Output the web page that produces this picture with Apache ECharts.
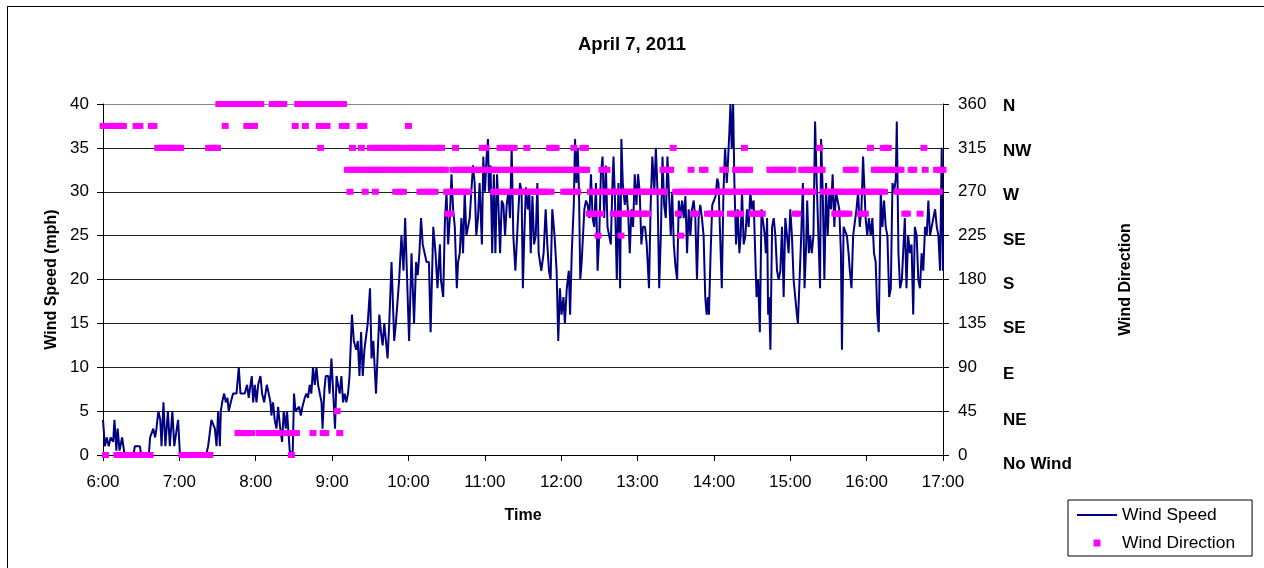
<!DOCTYPE html>
<html>
<head>
<meta charset="utf-8">
<title>April 7, 2011</title>
<script src="https://cdn.jsdelivr.net/npm/echarts@6/dist/echarts.min.js"></script>
<style>
  html, body { margin: 0; padding: 0; background: #fff; }
  #wrap { position: relative; width: 1264px; height: 568px; overflow: hidden; }
  #chart { width: 1264px; height: 568px; }
  #frame { position: absolute; left: 7px; top: 6px; width: 1300px; height: 600px; border: 1px solid #000; pointer-events: none; }
</style>
</head>
<body>
<div id="wrap">
  <div id="chart"></div>
  <div id="frame"></div>
</div>
<script>
// minutes after 6:00 on the x axis
const timeLabels = ['6:00', '7:00', '8:00', '9:00', '10:00', '11:00', '12:00', '13:00', '14:00', '15:00', '16:00', '17:00']
const degreeLabels = [0, 45, 90, 135, 180, 225, 270, 315, 360]
const compassLabels = ['No Wind', 'NE', 'E', 'SE', 'S', 'SE', 'W', 'NW', 'N']

// [minute, mph]
const windSpeed = [
  [0,4],[1.5,1],[3,2],[4.5,1],[6,2],[8,1.5],[9,4],[10.5,0.5],[11.5,3],[13,0.5],[15,2],[17,0],[24,0],[25,1],[29,1],[30,0],[36,0],[37,2],[39.5,3],[41,2],[42,3],[43.5,5],[45,4],[46,1],[47.5,6],[49,1],[51,5],[52.5,1],[54.5,5],[56,1],[57.5,1],[59,4],[60.5,0],
  [81,0],[82.6,1],[85.2,4],[87.9,3],[89.2,1],[90.5,5],[91.8,1],[92.6,5],[93.6,6],[95.2,7],[96.5,6],[97.8,6.5],[98.8,5],[100.4,6],[102.2,7],[104.9,7],[106.7,10],[108,7],[111.4,7],[113.2,8],[114.5,6.5],[115.9,8],[116.9,9],[118,6],[119.3,8],[120.6,6],[121.9,8],[123.7,9],[125,7],[126.6,6],[128.7,8],[130.2,7],[131.6,6],[132.3,4.5],[133.6,6],[134.9,4],[136.3,3],[137.6,5.5],[138.9,3.5],[140.7,1.5],[142,5],[143.6,3],[144.6,5],[146.7,0.5],[148,0],[149.1,0.5],[150.1,7],[151.2,5],[152.7,5],[154.1,5.5],[155.4,4.5],[156.7,5.5],[158.5,6.5],[159.8,7],[161.1,6.5],[162.4,8],[163.7,7],[165,10],[166.4,8],[167.7,10],[169,8],
  [170.4,8],[171.7,6],[172.5,3],[174,7.5],[175,9],[177,9],[178,7],[179.5,11],[181.6,5],[182.3,3],[183.5,9],[184.7,8],[186,7],[187.3,9],[188.6,6],[189.9,7],[191.2,6],[192.5,7],[193.7,9],[195.6,16],[197.1,13],[198.9,12],[200.2,13],[201.5,9],[202.8,14],[204.1,9],[205.4,12],[206.7,12],[208,15],[209.8,19],[211,11],[212.4,13],[214.5,7],[217.1,16],[218.4,14],[219.7,12.5],[221,15],[222.3,15],[223.6,11],[224.9,15],[226.7,22],[228.8,13],[230.1,15],[231.4,15],[232.7,20],[234.5,25],[236.1,21],[237.4,27],[238.7,27],[240.5,13],[242.4,23],[244.4,15],[246,22],[247.3,20.5],[248.6,23],[249.9,27],[251.2,24],[252.5,24],
  [254.2,22],[256.1,22],[257.4,14],[259.5,26],[261.3,23],[262.8,19],[264.7,24],[265.5,20],[267.3,18],[268.6,26.5],[269.9,30],[271.2,24],[272.5,27],[273.8,32],[275.1,28],[276.4,26],[278,19],[279,22],[280.3,23],[281.6,27],[282.9,23],[284.2,30],[285.5,25],[286.8,26],[288.1,27],[289.4,30],[290.7,33],[292,31],[293.3,25],[294.6,27],[295.9,31],[297.7,24],[298.8,34],[300.1,30],[301.4,34],[302.5,36],[303.2,30],[304.5,33],[305.8,23],[307.1,32],[308.3,23],[309.6,32],[310.7,28.5],[312,23],[313.3,29],[314.6,28.5],[315.9,25],[317.2,28.5],[318.5,30],[319.8,27],[321.1,35],[322.4,25],[324,21],[325.3,21],[326.6,28.5],[327.6,31],[328.9,30],[329.9,19],[331,25],[332.3,30.5],[333.8,28],[335,30],[336.1,23],[337.4,29.5],[338.7,24],
  [340,25],[341.3,31],[342.3,23],[344.4,21],[346.2,23],[347.8,28],[349.1,24],[350.4,21],[351.7,20],[353,28],[354.8,25],[356.4,21],[357.7,13],[359,19],[360.3,16],[361.8,18],[362.9,15],[364.4,19],[366,21],[367,16],[368.3,23],[369.9,28.5],[370.9,36],[372,31],[373,35],[374,30],[375,20],[376.1,22],[377.2,22],[378.2,28],[379.5,29],[380.8,28.5],[382.1,27],[383.4,32],[384.7,27],[386,26],[387.3,31],[388.6,21],[389.9,25],[391.2,32],[392.5,34],[393.8,27],[395.1,33],[396.4,26],[397.7,26],[399,24],[400.3,31],[401.1,34],[402.4,28.5],[403.7,20],[405,31],[406.3,19],[407.3,36],[408.4,31],[410,28.5],[411.5,30],[412.8,27],[413.9,23],[415.2,28],[416.5,26],[417.8,32],[419.1,28.5],[420.4,32],[421.7,30],[423,24],[424.3,26],
  [425.9,26],[427.2,24],[429,19],[430.3,28.5],[431.6,34],[433.2,30],[434.4,35],[435.7,30],[437,19],[438.3,25],[439.6,34],[440.9,28.5],[442.2,27],[443.5,34],[444.6,34],[446.1,25],[447.2,30],[448.5,24],[449.8,21.5],[451.1,20],[452.4,29],[453.7,27],[455,29],[456.3,27],[457.6,29.5],[458.9,23],[460.2,28],[461.5,25],[462.8,28],[464.1,29],[465.4,27],[466.7,20],[468,27],[469.3,28.5],[470.6,27],[471.9,25],[473.2,18],[474.3,16],[475.3,18],[476.1,16],[477.4,23],[478.7,28.5],[480,29],[481.3,29.5],[482.6,31.5],[483.6,31],[484.9,25],[486.2,19],[487.5,30],[488.8,35],[490.1,31],[490.9,33],[492.2,37],[493,40],[494,35],[495.1,40],[496.1,31],[497.4,24],[498.7,28],[500,23],[501,25],[502.1,30],[503.4,24],[504.7,25],[506,28],[507.3,26],[508.6,30],[509.9,28],[511.2,29],[512.2,29],
  [513.5,18],[514.8,20],[516.1,14],[517.4,28],[518.7,28],[520,25],[520.8,23],[521.8,27],[522.6,16],[523.4,18],[524.4,12],[525.7,26],[527,27],[528.3,25],[529.6,21],[530.9,20],[532.2,21],[533.5,26],[534.8,18],[536.1,27],[537.4,25],[538.7,23],[540,28],[541.3,25],[542.6,20],[543.9,20],[545.2,16],[546,15],[547.3,20],[548.6,25],[549.9,31],[551.2,19],[552.5,24],[553.3,29],[554.6,23],[555.6,25],[556.9,23],[558.2,25],[559.5,38],[560.8,31],[562.1,25],[563.4,19],[564.2,36],[565.5,30],[566.8,20],[568.1,31],[569.4,25],[570.7,30],[572,28],[573.3,32],[574.6,26],[575.9,30],[577.2,29],[578.5,28],[579.8,23],[580.6,12],[581.9,26],[583.2,26],[584.5,25],[585.8,23],[586.8,21],[588.1,19],[589.4,25],[590.7,25],[592,28],[593.3,30],[594.6,26],[595.9,28],[597.2,34],
  [599.2,27],[600.5,25],[601.8,27],[603.2,25],[604.5,27],[605.8,23],[607.1,22],[608.4,16],[609.5,14],[611.1,30],[612.4,26],[613.7,29],[615,26],[616.3,25],[617.7,18],[619,19],[620.3,31],[621.6,30],[622.9,31.5],[623.7,38],[625,23],[626.3,19],[627.7,20],[629,20],[630,27],[631.3,19],[632.6,25],[634,23],[635.3,24],[636.6,16],[637.9,26],[639.3,25],[640.6,20],[641.9,19],[643.2,23],[644.5,21],[645.9,26],[647.2,25],[648.5,29],[649.8,25],[651.1,26],[652.4,27],[653.8,28],[655.1,26],[656.4,25],[657.7,21],[659,35],[660,21]
]

// [minute, degrees]
const windDirection = [
  [0,337.5],[2,0],[4,337.5],[6,337.5],[8,337.5],[10,337.5],[11,0],[12,337.5],[13,0],[14,337.5],[15,0],[16,337.5],[17,0],[19,0],[21,0],[23,0],[25,0],[26,337.5],[27,0],[29,337.5],[31,0],[33,0],[35,0],[37,0],[38,337.5],[40,337.5],
  [43,315],[45,315],[47,315],[49,315],[51,315],[53,315],[55,315],[57,315],[59,315],[61,315],
  [62,0],[64,0],[66,0],[68,0],[70,0],[72,0],[74,0],[76,0],[78,0],[80,0],[82,0],[83,315],[84,0],[85,315],[87,315],[89,315],[90,315],
  [91,360],[93,360],[95,360],[96,337.5],[97,360],[99,360],[101,360],[103,360],[105,360],[106,22.5],[107,360],[108,22.5],[109,360],[110,22.5],[111,360],[112,22.5],[113,337.5],[114,22.5],[115,360],[116,337.5],[117,22.5],[118,360],[119,337.5],[120,360],[122,360],[123,22.5],[124,360],[125,22.5],[127,22.5],[129,22.5],[131,22.5],[133,360],[134,22.5],[135,360],[136,22.5],[137,360],[138,22.5],[139,360],[141,360],[142,360],
  [144,22.5],[146,22.5],[148,0],[149,22.5],[151,337.5],[152,22.5],[153,360],[155,360],[157,360],[159,337.5],[161,360],[163,360],[165,22.5],[166,360],[168,360],[170,337.5],[171,315],[172,360],[173,22.5],[174,337.5],[175,22.5],[176,337.5],[177,360],[179,360],[181,360],[183,360],[184,45],[185,360],[186,22.5],[187,360],[188,337.5],[189,360],[190,337.5],[191,337.5],
  [192,292.5],[194,270],[195,292.5],[196,315],[197,292.5],[199,292.5],[201,292.5],[202,337.5],[203,315],[204,292.5],[205,337.5],[206,270],[207,292.5],[209,292.5],[210,315],[211,292.5],[212,315],[213,292.5],[214,270],[215,315],[216,292.5],[217,315],[218,292.5],[219,315],[220,292.5],[221,315],[222,292.5],[223,315],[224,292.5],[225,315],[226,292.5],[227,315],[228,292.5],[229,315],[230,270],[231,292.5],[232,315],[233,270],[234,292.5],[235,315],[236,270],[237,292.5],[238,315],[239,292.5],[240,337.5],[241,315],[242,292.5],[243,315],[244,292.5],[245,315],[246,292.5],[247,315],[248,292.5],[249,270],[250,315],[251,292.5],[252,270],[253,315],[254,292.5],[255,270],[256,315],[257,292.5],[258,270],[259,315],[260,292.5],[261,270],[262,315],[263,292.5],[264,315],[265,292.5],[266,315],[267,292.5],[269,292.5],
  [270,270],[271,247.5],[272,270],[273,247.5],[274,270],[275,292.5],[276,270],[277,315],[278,292.5],[279,270],[280,292.5],[281,270],[282,292.5],[283,270],[284,292.5],[285,270],[286,292.5],[287,270],[288,292.5],[290,292.5],[292,292.5],[294,292.5],[296,292.5],[298,315],[299,292.5],[301,315],[302,292.5],[304,292.5],[306,292.5],
  [307,270],[308,292.5],[309,270],[310,292.5],[311,270],[312,315],[313,292.5],[314,270],[315,315],[316,292.5],[317,270],[318,315],[319,292.5],[320,270],[321,315],[322,292.5],[323,315],[324,270],[325,292.5],[326,270],[327,292.5],[328,270],[329,292.5],[330,270],[331,292.5],[332,270],[333,315],[334,292.5],[335,270],[336,292.5],[337,270],[338,292.5],[339,270],[340,292.5],[341,270],[342,292.5],[343,270],[344,292.5],[345,270],[346,292.5],[347,270],[348,292.5],[349,270],[350,292.5],[351,315],[352,270],[353,292.5],[354,315],[355,292.5],[356,315],[357,292.5],[359,292.5],[361,292.5],
  [362,270],[363,292.5],[364,270],[365,292.5],[366,270],[367,292.5],[368,270],[369,292.5],[370,315],[371,270],[372,292.5],[373,270],[374,292.5],[376,292.5],[377,315],[378,292.5],[379,315],[380,292.5],
  [382,247.5],[383,270],[384,247.5],[385,270],[386,247.5],[387,270],[388,247.5],[389,225],[390,270],[391,247.5],[392,292.5],[393,270],[394,292.5],[395,270],[396,292.5],[397,270],[399,270],[401,247.5],[402,270],[403,247.5],[404,270],[405,247.5],[406,270],[407,225],[408,247.5],[409,270],[410,247.5],[411,270],[412,247.5],[413,270],[414,247.5],[415,270],[416,247.5],[417,270],[418,247.5],[419,270],[420,247.5],[421,270],[422,247.5],[423,270],[424,247.5],[425,270],[426,247.5],[427,270],[428,247.5],[429,270],[431,270],[433,270],[435,270],[437,270],[439,270],[440,292.5],[441,270],[442,292.5],[444,292.5],[446,292.5],[448,315],
  [450,270],[452,247.5],[453,270],[454,225],[455,270],[457,270],[459,270],[461,270],[462,292.5],[463,270],[464,247.5],[465,270],[466,247.5],[467,270],[469,270],[471,292.5],[472,270],[473,292.5],[474,270],[475,247.5],[476,270],[477,247.5],[478,270],[479,247.5],[480,270],[481,247.5],[482,270],[483,247.5],[484,270],[485,247.5],[486,270],[487,292.5],[488,270],[489,292.5],[490,270],[492,270],[493,247.5],[494,270],[495,247.5],[496,270],[497,292.5],[498,247.5],[499,270],[500,292.5],[501,247.5],[502,270],[503,292.5],[504,315],[505,270],[506,292.5],[507,270],[508,292.5],[509,270],[510,247.5],[511,270],[512,247.5],[513,270],[514,247.5],[515,270],[516,247.5],[517,270],[518,247.5],[519,270],[521,270],[523,270],
  [524,292.5],[525,270],[526,292.5],[527,270],[528,292.5],[529,270],[530,292.5],[531,270],[532,292.5],[533,270],[534,292.5],[535,270],[536,292.5],[537,270],[538,292.5],[539,270],[540,292.5],[541,270],[542,292.5],[543,270],[544,247.5],[545,270],[546,247.5],[547,270],[549,292.5],[550,270],[551,292.5],[552,270],[553,292.5],[554,270],[555,292.5],[556,270],[557,292.5],[558,270],[559,292.5],[561,292.5],[563,315],[564,292.5],[565,292.5],
  [566,270],[568,270],[570,270],[572,270],[574,270],[575,247.5],[576,270],[577,247.5],[578,270],[579,247.5],[580,270],[581,247.5],[582,270],[583,247.5],[584,292.5],[585,270],[586,247.5],[587,292.5],[588,270],[589,292.5],[590,270],[591,292.5],[592,270],[594,270],[595,247.5],[596,270],[597,247.5],[598,270],[599,247.5],[600,270],[602,270],[603,315],[604,270],[606,292.5],[607,270],[608,292.5],[609,270],[610,292.5],[611,270],[612,292.5],[613,315],[614,270],[615,315],[616,292.5],[617,315],[618,292.5],[620,292.5],[622,292.5],
  [624,270],[625,292.5],[626,270],[627,292.5],[628,270],[630,247.5],[631,270],[632,247.5],[633,270],[635,292.5],[636,270],[637,292.5],[638,270],[640,270],[642,247.5],[643,270],[645,315],[646,292.5],[647,270],[649,270],[651,270],[653,270],[655,292.5],[656,270],[657,270],[658,292.5],[660,292.5]
]

const FONT = '"Liberation Sans", Arial, sans-serif'
// how far each compass word sits below its tick (px), bottom to top
const compassShift = [9, 9, 7.5, 5, 5, 4.5, 4, 3, 2]

const compassRich = {}
compassShift.forEach((s, i) => {
  compassRich['c' + i] = { fontFamily: FONT, fontSize: 17, fontWeight: 'bold', color: '#000', padding: [s * 2, 0, 0, 0] }
})

const myChart = echarts.init(document.getElementById('chart'), null, { renderer: 'canvas' })

const option = {
  backgroundColor: '#fff',
  animation: false,
  title: {
    text: 'April 7, 2011',
    left: 'center',
    top: 35,
    padding: 0,
    textStyle: { fontFamily: FONT, fontSize: 18.5, fontWeight: 'bold', color: '#000' }
  },
  legend: {
    orient: 'vertical',
    left: 1068,
    top: 500,
    padding: [6, 17, 4, 9],
    itemWidth: 40,
    itemHeight: 7,
    itemGap: 10,
    borderColor: '#000',
    borderWidth: 1,
    textStyle: { fontFamily: FONT, fontSize: 17.4, color: '#000', lineHeight: 18 },
    data: [
      { name: 'Wind Speed', icon: 'path://M0,0L40,0L40,2L0,2Z' },
      { name: 'Wind Direction', icon: 'path://M0,0L10,0L10,10L0,10Z' }
    ]
  },
  grid: { left: 103, right: 321, top: 104, bottom: 113 },
  xAxis: {
    type: 'value',
    min: 0,
    max: 660,
    interval: 60,
    name: 'Time',
    nameLocation: 'middle',
    nameGap: 53,
    nameTextStyle: { fontFamily: FONT, fontSize: 16, fontWeight: 'bold', color: '#000' },
    axisLine: { lineStyle: { color: '#000', width: 1 } },
    axisTick: { show: true, inside: false, length: 6, lineStyle: { color: '#000' } },
    axisLabel: {
      margin: 19,
      fontFamily: FONT, fontSize: 17, color: '#000',
      formatter: v => timeLabels[Math.round(v / 60)]
    },
    splitLine: { show: false }
  },
  yAxis: [
    {
      type: 'value',
      min: 0,
      max: 40,
      interval: 5,
      position: 'left',
      name: 'Wind Speed (mph)',
      nameLocation: 'middle',
      nameRotate: 90,
      nameGap: 43,
      nameTextStyle: { fontFamily: FONT, fontSize: 16, fontWeight: 'bold', color: '#000' },
      axisLine: { show: true, lineStyle: { color: '#000' } },
      axisTick: { show: true, length: 6, lineStyle: { color: '#000' } },
      axisLabel: { margin: 14, fontFamily: FONT, fontSize: 17, color: '#000' },
      splitLine: {
        show: true,
        lineStyle: { color: ['#000', '#222', '#222', '#222', '#222', '#222', '#222', '#222', '#888'], width: 1 }
      }
    },
    {
      type: 'value',
      min: 0,
      max: 360,
      interval: 45,
      position: 'right',
      axisLine: { show: true, lineStyle: { color: '#000' } },
      axisTick: { show: true, length: 6, lineStyle: { color: '#000' } },
      axisLabel: {
        margin: 15, fontFamily: FONT, fontSize: 17, color: '#000',
        formatter: v => String(v)
      },
      splitLine: { show: false }
    },
    {
      type: 'value',
      min: 0,
      max: 8,
      interval: 1,
      position: 'right',
      offset: 52,
      name: 'Wind Direction',
      nameLocation: 'middle',
      nameRotate: 90,
      nameGap: 123,
      nameTextStyle: { fontFamily: FONT, fontSize: 16, fontWeight: 'bold', color: '#000' },
      axisLine: { show: false },
      axisTick: { show: false },
      axisLabel: {
        margin: 8,
        formatter: v => '{c' + v + '|' + compassLabels[v] + '}',
        rich: compassRich
      },
      splitLine: { show: false }
    }
  ],
  series: [
    {
      name: 'Wind Speed',
      type: 'line',
      yAxisIndex: 0,
      symbol: 'none',
      showSymbol: false,
      data: windSpeed,
      lineStyle: { color: '#000080', width: 2 },
      itemStyle: { color: '#000080' },
      z: 2
    },
    {
      name: 'Wind Direction',
      type: 'scatter',
      yAxisIndex: 1,
      symbol: 'rect',
      symbolSize: [7, 6],
      data: windDirection,
      itemStyle: { color: '#FF00FF', opacity: 1 },
      z: 3
    }
  ]
}

option && myChart.setOption(option)
</script>
</body>
</html>
